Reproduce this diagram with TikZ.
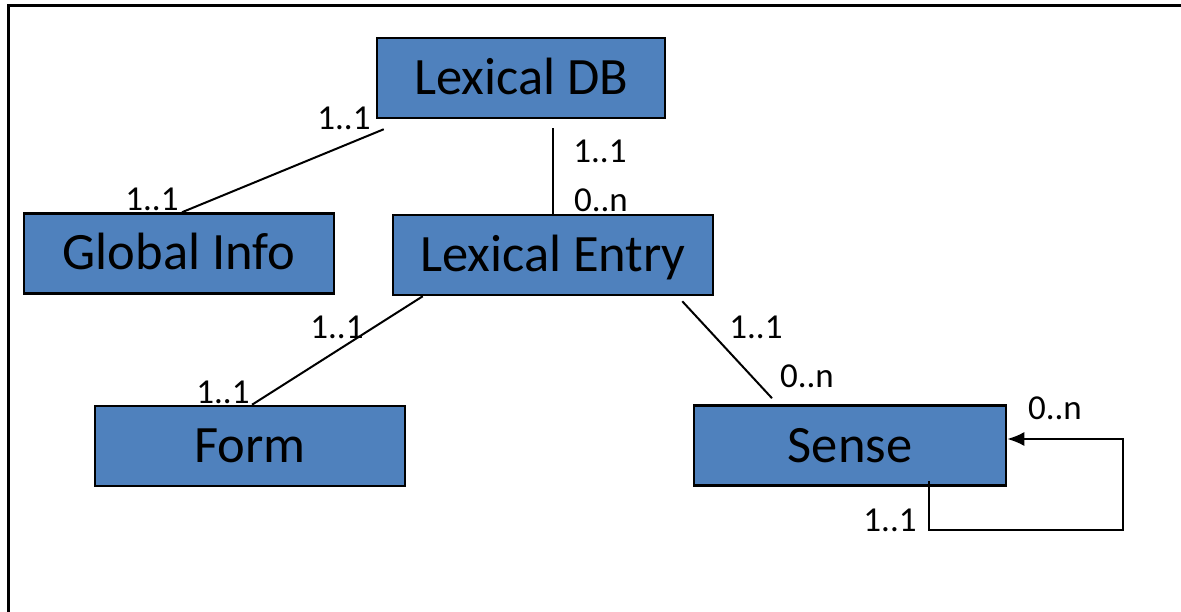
\documentclass[tikz,border=0pt]{standalone}
\usepackage{fontspec}
\setmainfont{Carlito}
\usetikzlibrary{arrows.meta,calc}
\definecolor{boxblue}{RGB}{79,129,189}

\begin{document}
\begin{tikzpicture}[x=1pt,y=-1pt,
    entity/.style={draw=black,line width=2.5pt,fill=boxblue,inner sep=0pt,
      minimum height=80pt,text height=33pt,text depth=0pt,
      font=\fontsize{52.5}{60}\selectfont},
    mult/.style={anchor=base,inner sep=0pt,font=\fontsize{35}{42}\selectfont},
    link/.style={line width=2pt}]
          \useasboundingbox (0,0) rectangle (1181,612);
          \draw[line width=3pt] (8.5,612) -- (8.5,6) -- (1181,6);
          \node[entity,minimum width=288pt] (db) at (521,78) {Lexical DB};
          \node[entity,minimum width=310pt] (global) at (179,253.5) {Global Info};
          \node[entity,minimum width=320pt] (entry) at (553,255) {Lexical Entry};
          \node[entity,minimum width=310pt] (form) at (250,446) {Form};
          \node[entity,minimum width=312pt] (sense) at (850,445.5) {Sense};
          \draw[link] ([xshift=8pt,yshift=-10pt]db.south west) -- ([xshift=3pt]global.north);     % db - global
          \draw[link] ($(db.south -| entry.north)+(0,9)$) -- (entry.north);                        % db - entry
          \draw[link] ([xshift=31pt]entry.south west) -- ([xshift=2pt]form.north);                 % entry - form
          \draw[link] ([xshift=-32pt,yshift=-5pt]entry.south east) -- ([xshift=-78pt,yshift=6pt]sense.north); % entry - sense
          \draw[link,-{Latex[length=17pt,width=14pt]}] ([xshift=-78pt,yshift=6pt]sense.south east)
            -- ++(0,49) -| (1123,439) -- ([yshift=6.5pt]sense.east);                               % sense - sense
          \node[mult] (mdbglobal) at (344,130) {1..1};
          \node[mult] (mglobaldb) at (152,211) {1..1};
          \node[mult] (mdbentry) at (600,163) {1..1};
          \node[mult] (mentrydb) at (601,212) {0..n};
          \node[mult] (mentryform) at (337,339) {1..1};
          \node[mult] (mformentry) at (223,403) {1..1};
          \node[mult] (mentrysense) at (756,338) {1..1};
          \node[mult] (msenseentry) at (807,387) {0..n};
          \node[mult] (msensein) at (1055,419) {0..n};
          \node[mult] (msenseout) at (890,531) {1..1};
        \end{tikzpicture}
\end{document}
